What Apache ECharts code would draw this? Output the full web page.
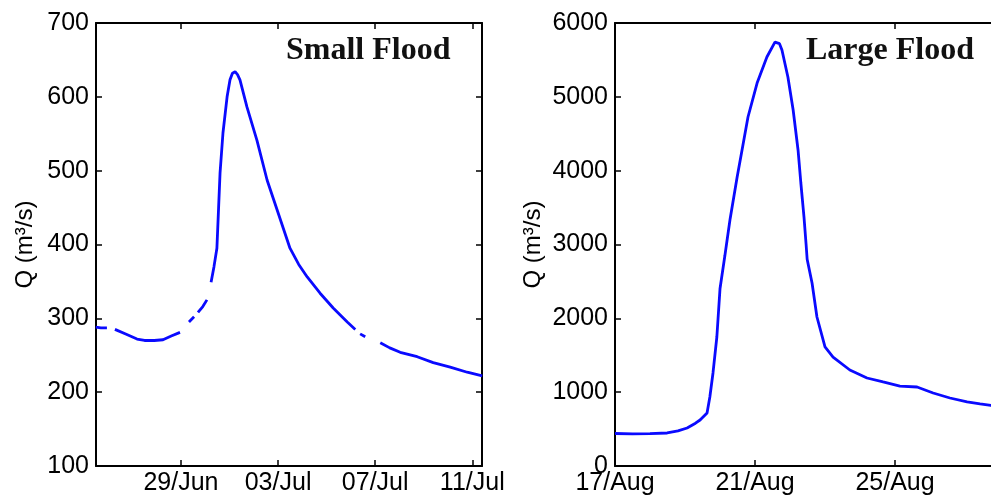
<!DOCTYPE html>
<html>
<head>
<meta charset="utf-8">
<script src="https://cdn.jsdelivr.net/npm/echarts@6/dist/echarts.min.js"></script>
<style>
  html, body { margin: 0; padding: 0; background: #fff; }
  #chart { width: 991px; height: 499px; }
</style>
</head>
<body>
<div id="chart"></div>
<script>
// Discharge hydrographs: days measured from the first labelled date of each panel.
// null marks a gap in the gauge record.
const smallFloodDay = [-3.51, -3.3, -3.05, -2.9, -2.72, -2.3, -1.81, -1.5, -1.1, -0.74, -0.4, -0.04, 0.15,
  0.33, 0.54, 0.62, 0.70, 0.9, 1.07, 1.15, 1.24, 1.36, 1.48, 1.55, 1.61, 1.73, 1.90, 2.02, 2.12, 2.23, 2.33,
  2.43, 2.72, 3.13, 3.55, 4.0, 4.49, 4.85, 5.20, 5.73, 6.27, 6.85, 7.18, 7.28, 7.38, 7.59, 7.9, 8.21, 8.6, 9.03,
  9.73, 10.39, 11.09, 11.79, 12.41];
const smallFloodQ = [288, 287, 287, null, 285, 279, 272, 270, 270, 271, 276, 281, null,
  295, 302, null, 308, 316, 325, null, 349, 370, 395, 450, 497, 551, 600, 623, 632, 634, 630,
  623, 586, 541, 487, 443, 395, 373, 356, 334, 314, 295, 285, null, 279, 275, null, 267, 260, 254,
  248, 240, 234, 227, 222];

const largeFloodDay = [0, 0.5, 1.0, 1.49, 1.8, 2.06, 2.3, 2.43, 2.63, 2.71, 2.80, 2.91, 3.0, 3.14,
  3.2, 3.29, 3.49, 3.63, 3.8, 4.06, 4.34, 4.57, 4.7, 4.77, 4.94, 5.09, 5.23, 5.31, 5.4, 5.46, 5.49,
  5.63, 5.77, 6.0, 6.23, 6.71, 7.2, 7.66, 8.14, 8.63, 9.09, 9.57, 10.06, 10.43, 10.74, 11.0];
const largeFloodQ = [440, 435, 438, 447, 475, 515, 580, 623, 718, 935, 1260, 1747, 2400, 2850,
  3050, 3350, 3914, 4280, 4727, 5187, 5540, 5740, 5720, 5634, 5269, 4822, 4280, 3833, 3372, 3000, 2800,
  2478, 2018, 1612, 1476, 1300, 1192, 1138, 1083, 1070, 989, 921, 867, 840, 820, 800];

const smallTickDays = [0, 4, 8, 12];
const smallTickLabels = ['29/Jun', '03/Jul', '07/Jul', '11/Jul'];
const largeTickDays = [0, 4, 8, 12];
const largeTickLabels = ['17/Aug', '21/Aug', '25/Aug', '29/Aug'];

const panelTitles = ['Small Flood', 'Large Flood'];
const yAxisName = 'Q (m\u00b3/s)';

function toPairs(days, q) {
  return days.map((d, i) => [d, q[i] === null ? '-' : q[i]]);
}

const chart = echarts.init(document.getElementById('chart'), null, { renderer: 'canvas' });

const sans = 'Liberation Sans, Arial, sans-serif';
const lineStyleAxis = { color: '#000', width: 2 };

function xAxes(gridIndex, min, max, days, labels) {
  const labelMap = {};
  days.forEach((d, i) => { labelMap[d] = labels[i]; });
  return [
    {
      type: 'value', gridIndex, position: 'bottom', min, max,
      axisLine: { show: true, onZero: false, lineStyle: lineStyleAxis },
      axisTick: { show: true, inside: true, length: 6, customValues: days, lineStyle: { color: '#000', width: 1.5 } },
      axisLabel: {
        show: true, customValues: days, margin: 5, hideOverlap: false,
        formatter: v => labelMap[v] !== undefined ? labelMap[v] : '',
        color: '#000', fontFamily: sans, fontSize: 25
      },
      splitLine: { show: false }
    },
    {
      type: 'value', gridIndex, position: 'top', min, max,
      axisLine: { show: true, onZero: false, lineStyle: lineStyleAxis },
      axisTick: { show: true, inside: true, length: 6, customValues: days, lineStyle: { color: '#000', width: 1.5 } },
      axisLabel: { show: false },
      splitLine: { show: false }
    }
  ];
}

function yAxes(gridIndex, min, max, interval, nameGap) {
  return [
    {
      type: 'value', gridIndex, position: 'left', min, max, interval,
      name: yAxisName, nameLocation: 'middle', nameGap,
      nameTextStyle: { color: '#000', fontFamily: sans, fontSize: 24 },
      axisLine: { show: true, onZero: false, lineStyle: lineStyleAxis },
      axisTick: { show: true, inside: true, length: 6, lineStyle: { color: '#000', width: 1.5 } },
      axisLabel: { color: '#000', fontFamily: sans, fontSize: 25, margin: 7, formatter: v => String(v) },
      splitLine: { show: false }
    },
    {
      type: 'value', gridIndex, position: 'right', min, max, interval,
      axisLine: { show: true, onZero: false, lineStyle: lineStyleAxis },
      axisTick: { show: true, inside: true, length: 6, lineStyle: { color: '#000', width: 1.5 } },
      axisLabel: { show: false },
      splitLine: { show: false }
    }
  ];
}

const titleStyle = { color: '#111', fontFamily: 'Liberation Serif, Times New Roman, serif', fontWeight: 'bold', fontSize: 32 };

chart.setOption({
  animation: false,
  backgroundColor: '#fff',
  title: [
    { text: panelTitles[0], left: 286, top: 35, padding: 0, textStyle: titleStyle },
    { text: panelTitles[1], left: 806, top: 35, padding: 0, textStyle: titleStyle }
  ],
  grid: [
    { left: 96, top: 23, width: 386, height: 443, outerBoundsMode: 'none', containLabel: false },
    { left: 615, top: 23, width: 434, height: 443, outerBoundsMode: 'none', containLabel: false }
  ],
  xAxis: [
    ...xAxes(0, -3.5, 12.4, smallTickDays, smallTickLabels),
    ...xAxes(1, 0, 12.4, largeTickDays, largeTickLabels)
  ],
  yAxis: [
    ...yAxes(0, 100, 700, 100, 59),
    ...yAxes(1, 0, 6000, 1000, 70)
  ],
  series: [
    {
      type: 'line', xAxisIndex: 0, yAxisIndex: 0,
      data: toPairs(smallFloodDay, smallFloodQ),
      showSymbol: false, connectNulls: false,
      lineStyle: { color: '#0a0aff', width: 2.8 }
    },
    {
      type: 'line', xAxisIndex: 2, yAxisIndex: 2,
      data: toPairs(largeFloodDay, largeFloodQ),
      showSymbol: false,
      lineStyle: { color: '#0a0aff', width: 2.8 }
    }
  ]
});
</script>
</body>
</html>
